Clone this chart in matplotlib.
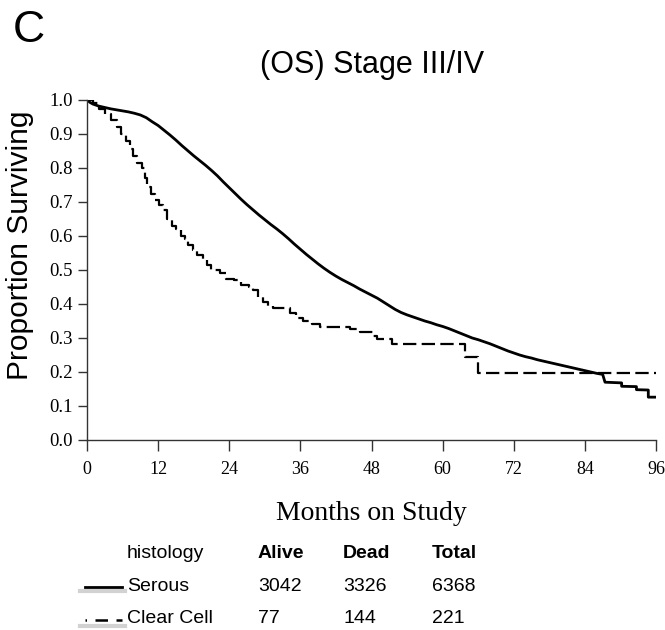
import matplotlib
matplotlib.use('Agg')
import matplotlib.pyplot as plt
from matplotlib.lines import Line2D

# Serous (large n, drawn as a line through the read points)
serous_months = [0, 0.5, 1, 2, 3, 4, 5, 6, 7, 8, 9, 10, 11, 12, 13, 14, 15, 16, 17,
                 18, 19, 20, 21, 22, 23, 24, 25, 26, 27, 28, 29, 30, 31, 32, 33, 34,
                 35, 36, 37, 38, 39, 40, 41, 42, 43, 44, 45, 46, 47, 48, 49, 50, 51,
                 52, 53, 54, 55, 56, 57, 58, 59, 60, 61, 62, 63, 64, 65, 66, 67, 68,
                 69, 70, 71, 72, 73, 74, 75, 76, 77, 78, 79, 80, 81, 82, 83, 84, 85,
                 86, 87.0, 87.4, 90.2, 90.2, 92.7, 92.7, 94.7, 94.7, 96.0]
serous_surv = [1.0, 0.993, 0.988, 0.982, 0.978, 0.974, 0.971, 0.968, 0.965, 0.961,
               0.956, 0.948, 0.936, 0.925, 0.911, 0.897, 0.882, 0.866, 0.851, 0.836,
               0.822, 0.808, 0.793, 0.777, 0.759, 0.742, 0.725, 0.708, 0.692, 0.677,
               0.662, 0.648, 0.634, 0.621, 0.607, 0.592, 0.576, 0.561, 0.546, 0.532,
               0.518, 0.505, 0.493, 0.482, 0.472, 0.463, 0.454, 0.444, 0.435, 0.426,
               0.417, 0.406, 0.395, 0.384, 0.375, 0.368, 0.362, 0.356, 0.350, 0.345,
               0.339, 0.334, 0.328, 0.321, 0.314, 0.307, 0.300, 0.295, 0.289, 0.283,
               0.276, 0.269, 0.262, 0.256, 0.250, 0.245, 0.241, 0.236, 0.232, 0.228,
               0.224, 0.220, 0.216, 0.212, 0.208, 0.204, 0.200, 0.196, 0.193, 0.170,
               0.168, 0.158, 0.157, 0.148, 0.147, 0.126, 0.126]

# Clear cell (Kaplan-Meier steps)
clear_months = [0, 1.0, 2.0, 3.0, 4.0, 5.0, 5.8, 6.5, 7.2, 7.8, 8.5, 9.2, 9.8, 10.1,
                10.8, 11.5, 12.2, 12.8, 13.5, 14.3, 15.0, 15.8, 16.5, 17.1, 17.8,
                18.5, 19.5, 20.3, 21.0, 22.5, 23.5, 24.8, 26.0, 27.3, 28.0, 28.8,
                29.7, 30.5, 31.4, 34.2, 35.2, 36.5, 38.0, 39.3, 44.4, 46.1, 48.3,
                49.0, 51.4, 63.8, 66.0, 96.0]
clear_surv = [1.0, 0.99, 0.975, 0.96, 0.94, 0.92, 0.90, 0.88, 0.855, 0.835, 0.815,
              0.80, 0.77, 0.745, 0.725, 0.706, 0.69, 0.675, 0.65, 0.63, 0.62, 0.60,
              0.59, 0.575, 0.56, 0.545, 0.53, 0.515, 0.50, 0.49, 0.475, 0.47, 0.455,
              0.45, 0.44, 0.42, 0.405, 0.395, 0.387, 0.375, 0.36, 0.35, 0.34, 0.333,
              0.326, 0.318, 0.305, 0.296, 0.283, 0.245, 0.196, 0.196]

x_ticks = [0, 12, 24, 36, 48, 60, 72, 84, 96]
y_ticks = [0.0, 0.1, 0.2, 0.3, 0.4, 0.5, 0.6, 0.7, 0.8, 0.9, 1.0]

histology = ['Serous', 'Clear Cell']
alive = [3042, 77]
dead = [3326, 144]
total = [6368, 221]

W, H = 665, 630
fig = plt.figure(figsize=(W / 100, H / 100), dpi=100)
ax = fig.add_axes([87 / W, 1 - 440 / H, (656 - 87) / W, 340 / H])

ax.plot(serous_months, serous_surv, color='black', lw=2.0, solid_joinstyle='round')
ax.plot(clear_months, clear_surv, color='black', lw=1.6, drawstyle='steps-post',
        dashes=(6, 2.4))

ax.set_xlim(0, 96)
ax.set_ylim(0, 1)
ax.set_xticks(x_ticks)
ax.set_yticks(y_ticks)
ax.set_yticklabels([f'{v:.1f}' for v in y_ticks])
for s in ['top', 'right']:
    ax.spines[s].set_visible(False)
for s in ['left', 'bottom']:
    ax.spines[s].set_color('#333333')
    ax.spines[s].set_linewidth(1.0)
ax.tick_params(axis='y', direction='out', length=6.5, width=1, pad=4, labelsize=13.5,
               color='#333333')
ax.tick_params(axis='x', direction='out', length=8, width=1, pad=7, labelsize=13,
               color='#333333')
for lab in ax.get_xticklabels() + ax.get_yticklabels():
    lab.set_family('Liberation Serif')

sans = 'Liberation Sans'
fig.text(13 / W, 1 - 41.7 / H, 'C', fontsize=32, family=sans, va='baseline', ha='left')
fig.text(371.7 / W, 1 - 72.7 / H, '(OS) Stage III/IV', fontsize=22, family=sans,
         ha='center', va='baseline')
fig.text(20.5 / W, 1 - 245 / H, 'Proportion Surviving', fontsize=21.5, family=sans,
         rotation=90, ha='center', va='center')
fig.text(371.5 / W, 1 - 520 / H, 'Months on Study', fontsize=20,
         family='Liberation Serif', ha='center', va='baseline')

# table below the chart
col_x = [126.7, 258, 343, 431.7]
row_y = [558, 590.7, 623]
fig.text(col_x[0] / W, 1 - row_y[0] / H, 'histology', fontsize=14, family=sans,
         va='baseline')
for cx, head in zip(col_x[1:], ['Alive', 'Dead', 'Total']):
    fig.text(cx / W, 1 - row_y[0] / H, head, fontsize=14, family=sans,
             fontweight='bold', va='baseline')
for i, name in enumerate(histology):
    y = 1 - row_y[i + 1] / H
    fig.text(col_x[0] / W, y, name, fontsize=14, family=sans, va='baseline')
    for cx, val in zip(col_x[1:], [alive[i], dead[i], total[i]]):
        fig.text(cx / W, y, str(val), fontsize=14, family=sans, va='baseline')

# legend samples with a soft grey shadow
fig.add_artist(Line2D([80 / W, 125 / W], [1 - 591 / H] * 2, color='grey', lw=3,
                      alpha=0.35, transform=fig.transFigure))
fig.add_artist(Line2D([85 / W, 122 / W], [1 - 586.7 / H] * 2, color='black', lw=2,
                      transform=fig.transFigure))
fig.add_artist(Line2D([80 / W, 125 / W], [1 - 626 / H] * 2, color='grey', lw=3,
                      alpha=0.35, transform=fig.transFigure))
fig.add_artist(Line2D([85 / W, 122 / W], [1 - 620 / H] * 2, color='black', lw=1.8,
                      dashes=(0.6, 3.4, 5, 3.4, 7, 2), transform=fig.transFigure))

fig.savefig('out.png', dpi=100)
